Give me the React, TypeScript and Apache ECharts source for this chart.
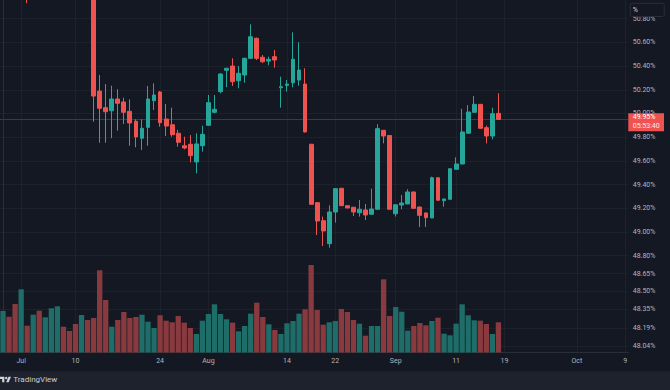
import React, { useEffect, useRef } from "react";
import * as echarts from "echarts";

// ---------- data ----------
const startDate = "2023-06-28";
const dayCount = 104;

// [open, close, low, high], one per day from 2023-06-28 to 2023-09-18
const candles: number[][] = [
  [51.4, 51.55, 51.33, 51.62],
  [51.55, 51.42, 51.3, 51.6],
  [51.42, 51.15, 51.05, 51.5],
  [51.15, 51.3, 51.02, 51.36],
  [51.3, 51.08, 50.93, 51.34],
  [51.08, 51.22, 51.0, 51.28],
  [51.22, 51.12, 51.02, 51.3],
  [51.12, 51.35, 51.05, 51.4],
  [51.35, 51.55, 51.28, 51.62],
  [51.55, 51.68, 51.46, 51.74],
  [51.68, 51.62, 51.56, 51.72],
  [51.62, 51.55, 51.5, 51.66],
  [51.55, 51.44, 51.36, 51.6],
  [51.44, 51.58, 51.38, 51.63],
  [51.58, 51.5, 51.42, 51.64],
  [51.5, 50.147, 49.931, 51.55],
  [50.189, 50.044, 49.753, 50.324],
  [50.049, 50.015, 49.753, 50.248],
  [50.023, 50.122, 49.791, 50.234],
  [50.122, 50.086, 49.855, 50.204],
  [50.097, 50.01, 49.911, 50.133],
  [50.018, 49.92, 49.728, 50.119],
  [49.934, 49.802, 49.715, 49.951],
  [49.791, 49.875, 49.692, 49.951],
  [49.883, 50.122, 49.728, 50.232],
  [50.108, 50.156, 50.029, 50.254],
  [50.181, 49.922, 49.888, 50.19],
  [49.953, 49.894, 49.81, 50.08],
  [49.905, 49.821, 49.804, 50.049],
  [49.833, 49.757, 49.72, 49.861],
  [49.728, 49.709, 49.698, 49.804],
  [49.74, 49.644, 49.588, 49.818],
  [49.591, 49.743, 49.495, 49.833],
  [49.728, 49.824, 49.678, 49.897],
  [49.9, 50.091, 49.9, 50.156],
  [50.01, 50.035, 50.001, 50.156],
  [50.184, 50.333, 50.17, 50.34],
  [50.364, 50.381, 50.221, 50.385],
  [50.4, 50.268, 50.232, 50.465],
  [50.276, 50.339, 50.212, 50.4],
  [50.324, 50.465, 50.259, 50.47],
  [50.465, 50.647, 50.46, 50.752],
  [50.634, 50.465, 50.451, 50.64],
  [50.474, 50.436, 50.428, 50.493],
  [50.442, 50.457, 50.406, 50.479],
  [50.479, 50.451, 50.386, 50.535],
  [50.217, 50.226, 50.049, 50.31],
  [50.237, 50.248, 50.184, 50.282],
  [50.259, 50.457, 50.221, 50.684],
  [50.282, 50.366, 50.234, 50.6],
  [50.248, 49.844, 49.84, 50.381],
  [49.74, 49.234, 49.23, 49.745],
  [49.248, 49.093, 48.975, 49.25],
  [49.096, 49.009, 48.882, 49.13],
  [48.902, 49.169, 48.868, 49.226],
  [49.169, 49.366, 49.079, 49.37],
  [49.369, 49.222, 49.22, 49.372],
  [49.222, 49.203, 49.2, 49.225],
  [49.209, 49.169, 49.135, 49.212],
  [49.163, 49.192, 49.13, 49.27],
  [49.186, 49.144, 49.102, 49.237],
  [49.15, 49.194, 49.148, 49.366],
  [49.192, 49.872, 49.19, 49.909],
  [49.858, 49.81, 49.748, 49.86],
  [49.814, 49.192, 49.19, 49.816],
  [49.154, 49.23, 49.131, 49.232],
  [49.228, 49.245, 49.192, 49.312],
  [49.237, 49.338, 49.235, 49.361],
  [49.338, 49.2, 49.198, 49.34],
  [49.211, 49.141, 49.043, 49.213],
  [49.161, 49.121, 49.043, 49.163],
  [49.119, 49.458, 49.117, 49.467],
  [49.458, 49.268, 49.266, 49.46],
  [49.264, 49.279, 49.214, 49.281],
  [49.276, 49.534, 49.274, 49.536],
  [49.529, 49.574, 49.527, 49.63],
  [49.574, 49.844, 49.572, 50.04],
  [49.833, 50.012, 49.831, 50.071],
  [50.01, 50.077, 50.008, 50.147],
  [50.077, 49.875, 49.873, 50.079],
  [49.88, 49.81, 49.748, 49.897],
  [49.81, 49.998, 49.782, 50.049],
  [50.001, 49.95, 49.948, 50.17],
];

const volumes: number[] = [
  41.5, 35.8, 48.5, 63.2, 26.8, 37.8, 41.8, 35.2, 44.2, 46.2,
  25.8, 21.5, 28.5, 37.5, 32.5, 34.5, 82.2, 52.5, 25.8, 32.5,
  40.5, 34.5, 35.5, 37.8, 30.8, 24.5, 37.2, 31.8, 30.2, 36.5,
  29.8, 24.5, 18.5, 31.8, 38.5, 48.2, 38.5, 33.2, 29.8, 21.2,
  26.5, 38.8, 49.8, 35.5, 28.2, 22.5, 18.5, 29.2, 31.5, 38.8,
  43.2, 87.5, 42.5, 27.8, 30.2, 31.5, 43.5, 40.5, 32.5, 28.8,
  16.8, 26.5, 26.5, 73.2, 36.5, 45.5, 40.8, 21.8, 26.5, 29.5,
  27.2, 31.5, 34.8, 18.8, 17.2, 28.8, 48.2, 37.2, 32.2, 31.8,
  28.5, 18.5, 30.2,
];

const timeLabels: Record<string, string> = {
  "2023-07-01": "Jul",
  "2023-07-10": "10",
  "2023-07-24": "24",
  "2023-08-01": "Aug",
  "2023-08-14": "14",
  "2023-08-22": "22",
  "2023-09-01": "Sep",
  "2023-09-11": "11",
  "2023-09-19": "19",
  "2023-10-01": "Oct",
  "2023-10-09": "9",
};

const priceTicks: number[] = [
  50.8, 50.6, 50.4, 50.2, 50.0, 49.8, 49.6, 49.4, 49.2, 49.0, 48.8, 48.65,
  48.5, 48.35, 48.19, 48.04,
];

const lastPrice = 49.95;
const countdown = "05:53:40";
const priceMin = 47.984;
const priceMax = 50.957;
const volumeMax = 352.5;

// ---------- styles ----------
const BG = "#141823";
const FOOT = "#1e222d";
const UP = "#26a69a";
const DOWN = "#ef5350";
const VOL_UP = "#1f6d68";
const VOL_DOWN = "#893a3e";
const GRID = "#1d212c";
const AXIS = "#2a2e39";
const TEXT = "#b2b5be";
const PRICE_LINE = "#5f2c35";
const FONT = "Roboto, 'Noto Sans', sans-serif";

const TV_PATH = "M14 22H7V11H0V4h14v18zM28 22h-8l7.5-18h8L28 22z";
echarts.graphic.registerShape("tvlogo", echarts.graphic.extendPath(TV_PATH, {}));

function buildCategories(): string[] {
  const out: string[] = [];
  const [y, m, d] = startDate.split("-").map(Number);
  const base = Date.UTC(y, m - 1, d);
  for (let i = 0; i < dayCount; i++) {
    out.push(new Date(base + i * 86400000).toISOString().slice(0, 10));
  }
  return out;
}

export default function App() {
  const ref = useRef<HTMLDivElement>(null);

  useEffect(() => {
    if (!ref.current) return;
    const chart = echarts.init(ref.current, undefined, { renderer: "svg" });
    const categories = buildCategories();
    const labelIdx = categories
      .map((c, i) => (timeLabels[c] !== undefined ? i : -1))
      .filter((i) => i >= 0);

    const volData = volumes.map((v, i) => ({
      value: v,
      itemStyle: { color: candles[i][1] >= candles[i][0] ? VOL_UP : VOL_DOWN },
    }));

    chart.setOption({
      animation: false,
      backgroundColor: BG,
      textStyle: { fontFamily: FONT },
      grid: { left: 0, right: 41.7, top: 0, bottom: 37.5, containLabel: false },
      xAxis: [
        {
          type: "category",
          data: categories,
          boundaryGap: true,
          axisLine: { show: true, lineStyle: { color: AXIS, width: 1 } },
          axisTick: { show: false },
          axisLabel: {
            interval: (_i: number, v: string) => timeLabels[v] !== undefined,
            formatter: (v: string) => timeLabels[v] ?? "",
            color: TEXT,
            fontSize: 7,
            fontFamily: FONT,
            margin: 5,
          },
          splitLine: { show: false },
        },
        {
          type: "value",
          position: "top",
          min: -0.5,
          max: dayCount - 0.5,
          axisLine: { show: false },
          axisLabel: { show: false },
          axisTick: { show: false, customValues: labelIdx },
          splitLine: { show: true, lineStyle: { color: GRID, width: 1 } },
        },
      ],
      yAxis: [
        {
          type: "value",
          position: "right",
          min: priceMin,
          max: priceMax,
          axisLine: { show: true, lineStyle: { color: AXIS, width: 1 } },
          axisTick: { show: false, customValues: priceTicks },
          axisLabel: {
            customValues: priceTicks,
            formatter: (v: number) => v.toFixed(2) + "%",
            color: TEXT,
            fontSize: 7,
            fontFamily: FONT,
            margin: 4.4,
          },
          splitLine: { show: true, lineStyle: { color: GRID, width: 1 } },
        },
        {
          type: "value",
          min: 0,
          max: volumeMax,
          show: false,
          splitLine: { show: false },
        },
      ],
      series: [
        {
          type: "bar",
          xAxisIndex: 0,
          yAxisIndex: 1,
          data: volData,
          barWidth: "88%",
          silent: true,
          z: 1,
        },
        {
          type: "candlestick",
          xAxisIndex: 0,
          yAxisIndex: 0,
          data: candles,
          barWidth: 4.3,
          clip: true,
          silent: true,
          z: 3,
          itemStyle: {
            color: UP,
            color0: DOWN,
            borderColor: UP,
            borderColor0: DOWN,
            borderWidth: 1,
          },
        },
      ],
    });

    const py = chart.convertToPixel({ yAxisIndex: 0 }, lastPrice) as number;
    const gx = chart.convertToPixel({ xAxisIndex: 1 }, dayCount - 0.5) as number;

    chart.setOption({
      graphic: [
        {
          type: "rect",
          z: 0,
          silent: true,
          shape: { x: 0, y: Math.round(py), width: gx, height: 1 },
          style: { fill: PRICE_LINE },
        },
        {
          type: "rect",
          z: 100,
          shape: { x: 0, y: 371.5, width: 670, height: 18.5 },
          style: { fill: FOOT },
        },
        {
          type: "tvlogo",
          z: 101,
          x: 0,
          y: 375.5,
          scaleX: 0.31,
          scaleY: 0.31,
          style: { fill: "#d1d4dc" },
        },
        {
          type: "circle",
          z: 101,
          shape: { cx: 20 * 0.31, cy: 375.5 + 8 * 0.31, r: 4 * 0.31 },
          style: { fill: "#d1d4dc" },
        },
        {
          type: "text",
          z: 101,
          x: 13.3,
          y: 379.8,
          style: {
            text: "TradingView",
            fill: "#c8cbd3",
            fontSize: 8,
            fontFamily: FONT,
            verticalAlign: "middle",
          },
        },
        {
          type: "rect",
          z: 100,
          shape: { x: gx + 2, y: 3.3, width: 34, height: 13.2, r: 2 },
          style: { fill: BG, stroke: AXIS, lineWidth: 1 },
        },
        {
          type: "text",
          z: 101,
          x: gx + 4.4,
          y: 10.2,
          style: {
            text: "%",
            fill: "#d1d4dc",
            fontSize: 7,
            fontFamily: FONT,
            verticalAlign: "middle",
          },
        },
        {
          type: "rect",
          z: 100,
          shape: { x: gx, y: py - 6.1, width: 35.7, height: 18 },
          style: { fill: DOWN },
        },
        {
          type: "text",
          z: 101,
          x: gx + 4.4,
          y: py - 2.1,
          style: {
            text: lastPrice.toFixed(2) + "%",
            fill: "#ffffff",
            fontSize: 7,
            fontFamily: FONT,
            verticalAlign: "middle",
          },
        },
        {
          type: "text",
          z: 101,
          x: gx + 4.4,
          y: py + 6.6,
          style: {
            text: countdown,
            fill: "#ffe9e9",
            fontSize: 7,
            fontFamily: FONT,
            verticalAlign: "middle",
          },
        },
      ],
    });

    return () => chart.dispose();
  }, []);

  return (
    <div
      ref={ref}
      style={{ position: "fixed", left: 0, top: 0, width: 670, height: 390, background: BG }}
    />
  );
}
